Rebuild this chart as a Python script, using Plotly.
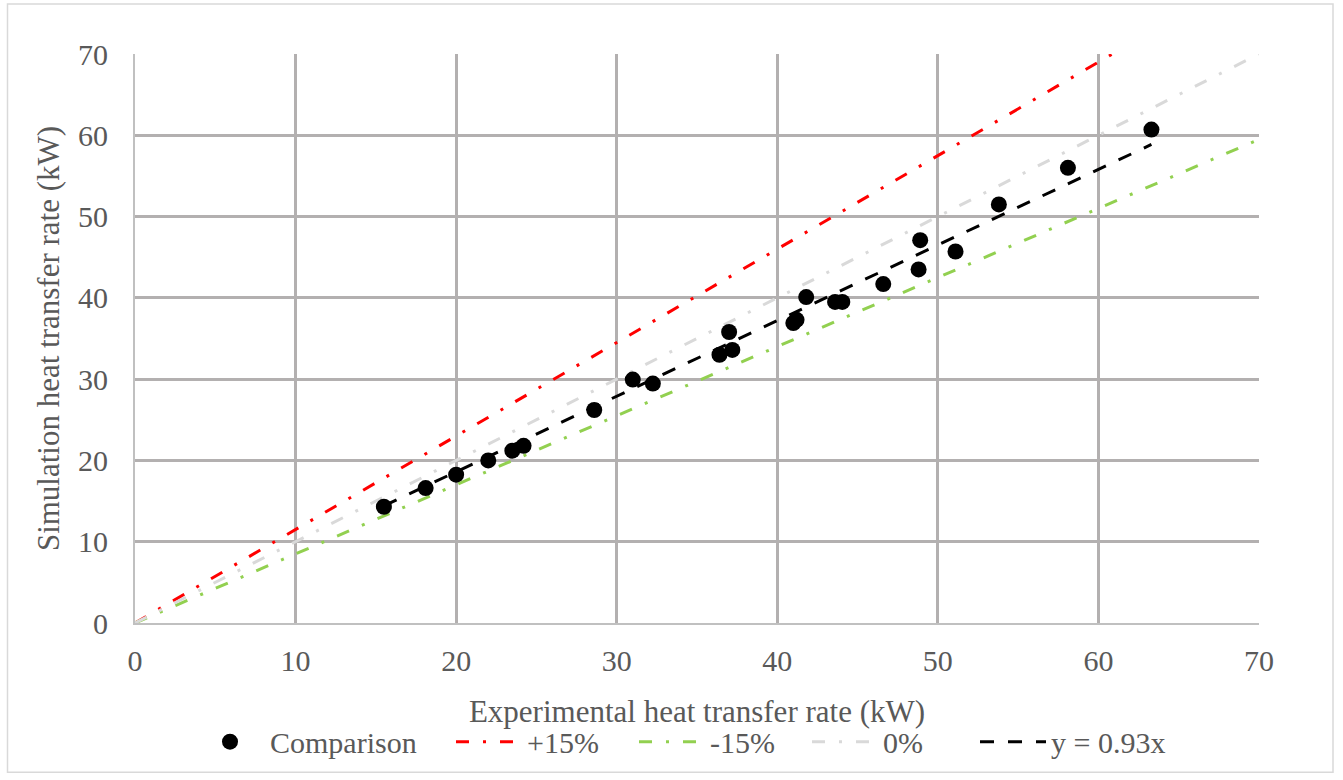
import plotly.graph_objects as go

# ---- data ----
x_exp = [15.5, 18.1, 20.0, 22.0, 23.5, 24.2, 28.6, 31.0, 32.25, 36.4, 37.0, 37.2,
         41.0, 41.2, 41.8, 43.6, 44.05, 46.6, 48.8, 48.9, 51.1, 53.8, 58.1, 63.3]
y_sim = [14.3, 16.6, 18.25, 20.0, 21.2, 21.8, 26.2, 29.95, 29.45, 33.0, 35.8, 33.6,
         36.9, 37.3, 40.1, 39.5, 39.5, 41.7, 43.5, 47.1, 45.7, 51.5, 56.0, 60.7]
ref_x = [0, 70]
plus_factor = 1.15
minus_factor = 0.85
zero_factor = 1.0
trend_slope = 0.93
ticks = [0, 10, 20, 30, 40, 50, 60, 70]

FONT = "Liberation Serif"
TXT = "#595959"

fig = go.Figure()

fig.add_trace(go.Scatter(x=ref_x, y=[plus_factor * v for v in ref_x], mode="lines", name="+15%",
                         line=dict(color="#ff0000", width=3, dash="13px,14px,3px,14px"),
                         legend="legend2"))
fig.add_trace(go.Scatter(x=ref_x, y=[minus_factor * v for v in ref_x], mode="lines", name="-15%",
                         line=dict(color="#92d050", width=3, dash="13px,14px,3px,14px"),
                         legend="legend3"))
fig.add_trace(go.Scatter(x=ref_x, y=[zero_factor * v for v in ref_x], mode="lines", name="0%",
                         line=dict(color="#d9d9d9", width=3, dash="13px,14px,3px,14px"),
                         legend="legend4"))
tx = [min(x_exp), max(x_exp)]
fig.add_trace(go.Scatter(x=tx, y=[trend_slope * v for v in tx], mode="lines", name="y = 0.93x",
                         line=dict(color="#000000", width=3, dash="14px,14px"),
                         legend="legend5"))
fig.add_trace(go.Scatter(x=x_exp, y=y_sim, mode="markers", name="Comparison",
                         marker=dict(color="#000000", size=16), legend="legend"))

leg_common = dict(orientation="h", yanchor="middle", y=-0.2085, xanchor="left",
                  font=dict(family=FONT, size=30, color=TXT), bgcolor="rgba(0,0,0,0)",
                  itemwidth=66)

def px2paper(px):
    return (px - 135) / 1124.0

fig.update_layout(
    width=1343, height=780,
    margin=dict(l=135, r=84, t=54, b=152),
    paper_bgcolor="white", plot_bgcolor="white",
    font=dict(family=FONT, size=30, color=TXT),
    showlegend=True,
    legend=dict(leg_common, x=px2paper(190), itemwidth=70),
    legend2=dict(leg_common, x=px2paper(451)),
    legend3=dict(leg_common, x=px2paper(634)),
    legend4=dict(leg_common, x=px2paper(807)),
    legend5=dict(leg_common, x=px2paper(975)),
    xaxis=dict(range=[0, 70], tickvals=ticks, showgrid=True, gridcolor="#b3b0b0", gridwidth=2.5,
               zeroline=False, showline=True, linecolor="#c0c0c0", linewidth=2, mirror=False,
               ticks="", ticklabelstandoff=10, tickfont=dict(family=FONT, size=30, color=TXT),
               title=dict(text="Experimental heat transfer rate (kW)", standoff=24,
                          font=dict(family=FONT, size=31, color=TXT))),
    yaxis=dict(range=[0, 70], tickvals=ticks, showgrid=True, gridcolor="#b3b0b0", gridwidth=2.5,
               zeroline=False, showline=True, linecolor="#c0c0c0", linewidth=2,
               ticks="", ticklabelstandoff=19, tickfont=dict(family=FONT, size=30, color=TXT),
               title=dict(text="Simulation heat transfer rate (kW)", standoff=9,
                          font=dict(family=FONT, size=31, color=TXT))),
)

fig.add_shape(type="rect", xref="paper", yref="paper",
              x0=px2paper(7.5), x1=px2paper(1333), y0=(628 - 778.5) / 574.0, y1=(628 - 3.5) / 574.0,
              line=dict(color="#d9d9d9", width=1.5), fillcolor="rgba(0,0,0,0)", layer="below")

fig.write_html("out.html")
